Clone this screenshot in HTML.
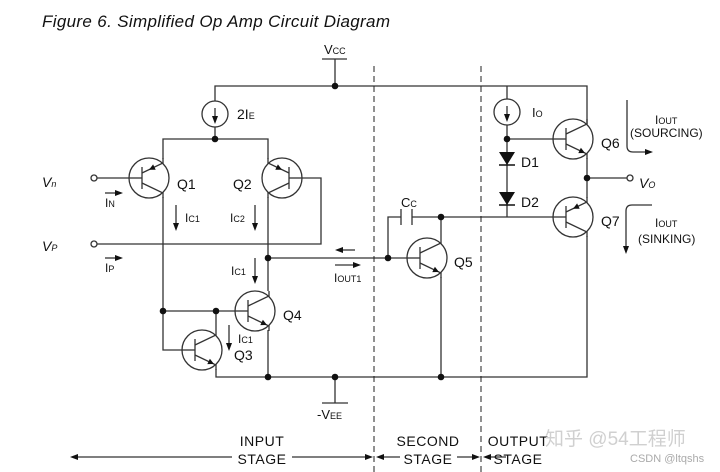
<!DOCTYPE html>
<html><head><meta charset="utf-8"><style>
html,body{margin:0;padding:0;background:#fff;}
svg{display:block;font-family:"Liberation Sans",Arial,sans-serif;}
</style></head><body>
<svg width="720" height="472" viewBox="0 0 720 472" xmlns="http://www.w3.org/2000/svg">
<defs>
<g id="npn" fill="none" stroke="#333" stroke-width="1.3">
<circle r="20"/>
<line x1="-7" y1="-11" x2="-7" y2="11"/>
<line x1="-20" y1="0" x2="-7" y2="0"/>
<polyline points="-7,-5 14,-15 14,-20"/>
<polyline points="-7,5 14,15 14,20"/>
<polygon points="12,14 5.3,14.1 7.9,8.7" fill="#111" stroke="none"/>
</g>
<g id="pnp" fill="none" stroke="#333" stroke-width="1.3">
<circle r="20"/>
<line x1="-7" y1="-11" x2="-7" y2="11"/>
<line x1="-20" y1="0" x2="-7" y2="0"/>
<polyline points="-7,-5 14,-15 14,-20"/>
<polyline points="-7,5 14,15 14,20"/>
<polygon points="0,-8.3 6.7,-8.2 4.1,-13.6" fill="#111" stroke="none"/>
</g>
</defs>

<text x="42" y="27" font-size="17" font-style="italic" textLength="348" fill="#111">Figure 6.  Simplified Op Amp Circuit Diagram</text>

<g stroke="#333" stroke-width="1.3" fill="none">
<line x1="322" y1="59" x2="347" y2="59"/>
<line x1="335" y1="59" x2="335" y2="86"/>
<polyline points="215,101 215,86 587,86 587,124"/>
<circle cx="215" cy="114" r="13"/>
<line x1="215" y1="108" x2="215" y2="120"/>
<line x1="215" y1="127" x2="215" y2="139"/>
<polyline points="163,159 163,139 268,139 268,159"/>
<line x1="97" y1="178" x2="129" y2="178"/>
<circle cx="94" cy="178" r="3" fill="#fff"/>
<polyline points="302,178 321,178 321,244 97,244"/>
<circle cx="94" cy="244" r="3" fill="#fff"/>
<polyline points="163,197 163,350 182,350"/>
<line x1="268" y1="197" x2="268" y2="291"/>
<line x1="268" y1="258" x2="388" y2="258"/>
<line x1="163" y1="311" x2="235" y2="311"/>
<line x1="216" y1="311" x2="216" y2="330"/>
<line x1="268" y1="330" x2="268" y2="377"/>
<polyline points="216,369 216,377 587,377 587,236"/>
<line x1="335" y1="377" x2="335" y2="403"/>
<line x1="322" y1="403" x2="348" y2="403"/>
<line x1="388" y1="258" x2="407" y2="258"/>
<polyline points="388,258 388,217 401,217"/>
<line x1="401" y1="209" x2="401" y2="225"/>
<line x1="412" y1="209" x2="412" y2="225"/>
<line x1="412" y1="217" x2="553" y2="217"/>
<line x1="441" y1="217" x2="441" y2="238"/>
<line x1="441" y1="277" x2="441" y2="377"/>
<line x1="507" y1="86" x2="507" y2="99"/>
<circle cx="507" cy="112" r="13"/>
<line x1="507" y1="106" x2="507" y2="118"/>
<line x1="507" y1="125" x2="507" y2="217"/>
<line x1="507" y1="139" x2="553" y2="139"/>
<line x1="587" y1="158" x2="587" y2="198"/>
<line x1="587" y1="178" x2="627" y2="178"/>
<circle cx="630" cy="178" r="3" fill="#fff"/>
<path d="M627,100 V146 Q627,152 633,152 H648"/>
<path d="M652,205 H632 Q626,205 626,211 V248"/>
<line x1="105" y1="193" x2="119" y2="193"/>
<line x1="105" y1="258" x2="119" y2="258"/>
<line x1="176" y1="205" x2="176" y2="226"/>
<line x1="255" y1="205" x2="255" y2="226"/>
<line x1="255" y1="258" x2="255" y2="279"/>
<line x1="229" y1="325" x2="229" y2="346"/>
<line x1="340" y1="250" x2="355" y2="250"/>
<line x1="335" y1="265" x2="356" y2="265"/>
<line x1="74" y1="457" x2="232" y2="457"/>
<line x1="292" y1="457" x2="370" y2="457"/>
<line x1="380" y1="457" x2="400" y2="457"/>
<line x1="457" y1="457" x2="477" y2="457"/>
<line x1="486" y1="457" x2="506" y2="457"/>
</g>
<g stroke="#222" stroke-width="1" stroke-dasharray="6,4">
<line x1="374" y1="66" x2="374" y2="472"/>
<line x1="481" y1="66" x2="481" y2="472"/>
</g>
<g fill="#111">
<polygon points="215,124 212,116 218,116"/>
<polygon points="507,122 504,114 510,114"/>
<polygon points="123,193 115,190 115,196"/>
<polygon points="123,258 115,255 115,261"/>
<polygon points="176,231 173,223 179,223"/>
<polygon points="255,231 252,223 258,223"/>
<polygon points="255,284 252,276 258,276"/>
<polygon points="229,351 226,343 232,343"/>
<polygon points="335,250 343,247 343,253"/>
<polygon points="361,265 353,262 353,268"/>
<polygon points="653,152 645,149 645,155"/>
<polygon points="626,254 623,246 629,246"/>
<polygon points="70,457 78,454 78,460"/>
<polygon points="373,457 365,454 365,460"/>
<polygon points="376,457 384,454 384,460"/>
<polygon points="480,457 472,454 472,460"/>
<polygon points="483,457 491,454 491,460"/>
<polygon points="499,152 515,152 507,165"/>
<polygon points="499,192 515,192 507,205"/>
</g>
<g stroke="#111" stroke-width="1.5">
<line x1="499" y1="165" x2="515" y2="165"/>
<line x1="499" y1="205" x2="515" y2="205"/>
</g>
<g fill="#111">
<circle cx="335" cy="86" r="3.3"/>
<circle cx="215" cy="139" r="3.3"/>
<circle cx="268" cy="258" r="3.3"/>
<circle cx="388" cy="258" r="3.3"/>
<circle cx="441" cy="217" r="3.3"/>
<circle cx="163" cy="311" r="3.3"/>
<circle cx="216" cy="311" r="3.3"/>
<circle cx="268" cy="377" r="3.3"/>
<circle cx="335" cy="377" r="3.3"/>
<circle cx="441" cy="377" r="3.3"/>
<circle cx="507" cy="139" r="3.3"/>
<circle cx="587" cy="178" r="3.3"/>
</g>
<use href="#pnp" transform="translate(149,178)"/>
<use href="#pnp" transform="translate(282,178) scale(-1,1)"/>
<use href="#npn" transform="translate(255,311)"/>
<use href="#npn" transform="translate(202,350)"/>
<use href="#npn" transform="translate(427,258)"/>
<use href="#npn" transform="translate(573,139)"/>
<use href="#pnp" transform="translate(573,217)"/>
<g fill="#111" font-size="14">
<text x="324" y="54" font-size="13">V<tspan font-size="9">CC</tspan></text>
<text x="237" y="119">2I<tspan font-size="9">E</tspan></text>
<text x="177" y="189">Q1</text>
<text x="233" y="189">Q2</text>
<text x="283" y="320">Q4</text>
<text x="234" y="360">Q3</text>
<text x="454" y="267">Q5</text>
<text x="601" y="148">Q6</text>
<text x="601" y="226">Q7</text>
<text x="521" y="167">D1</text>
<text x="521" y="207">D2</text>
<text x="42" y="187" font-style="italic">V<tspan font-size="9">n</tspan></text>
<text x="42" y="251" font-style="italic">V<tspan font-size="9">P</tspan></text>
<text x="639" y="188" font-style="italic">V<tspan font-size="9">O</tspan></text>
<text x="105" y="207" font-size="12">I<tspan font-size="9">N</tspan></text>
<text x="105" y="272" font-size="12">I<tspan font-size="9">P</tspan></text>
<text x="185" y="222" font-size="12">I<tspan font-size="9">C1</tspan></text>
<text x="230" y="222" font-size="12">I<tspan font-size="9">C2</tspan></text>
<text x="231" y="275" font-size="12">I<tspan font-size="9">C1</tspan></text>
<text x="238" y="343" font-size="12">I<tspan font-size="9">C1</tspan></text>
<text x="334" y="282" font-size="12">I<tspan font-size="9">OUT1</tspan></text>
<text x="401" y="207" font-size="13">C<tspan font-size="9">C</tspan></text>
<text x="532" y="117" font-size="13">I<tspan font-size="9">O</tspan></text>
<text x="655" y="124" font-size="12">I<tspan font-size="9">OUT</tspan></text>
<text x="630" y="137" font-size="12">(SOURCING)</text>
<text x="655" y="227" font-size="12">I<tspan font-size="9">OUT</tspan></text>
<text x="638" y="243" font-size="12">(SINKING)</text>
<text x="317" y="419" font-size="13">-V<tspan font-size="9">EE</tspan></text>
<text x="262" y="446" font-size="14" text-anchor="middle" letter-spacing="0.5">INPUT</text>
<text x="262" y="464" font-size="14" text-anchor="middle" letter-spacing="0.5">STAGE</text>
<text x="428" y="446" font-size="14" text-anchor="middle" letter-spacing="0.5">SECOND</text>
<text x="428" y="464" font-size="14" text-anchor="middle" letter-spacing="0.5">STAGE</text>
<text x="518" y="446" font-size="14" text-anchor="middle" letter-spacing="0.5">OUTPUT</text>
<text x="518" y="464" font-size="14" text-anchor="middle" letter-spacing="0.5">STAGE</text>
</g>
<text x="545" y="445" font-size="19" fill="#d0d0d0" font-family="'Liberation Sans','Noto Sans CJK SC',sans-serif">知乎 @54工程师</text>
<text x="630" y="462" font-size="11" fill="#aaa">CSDN @ltqshs</text>
</svg>
</body></html>
